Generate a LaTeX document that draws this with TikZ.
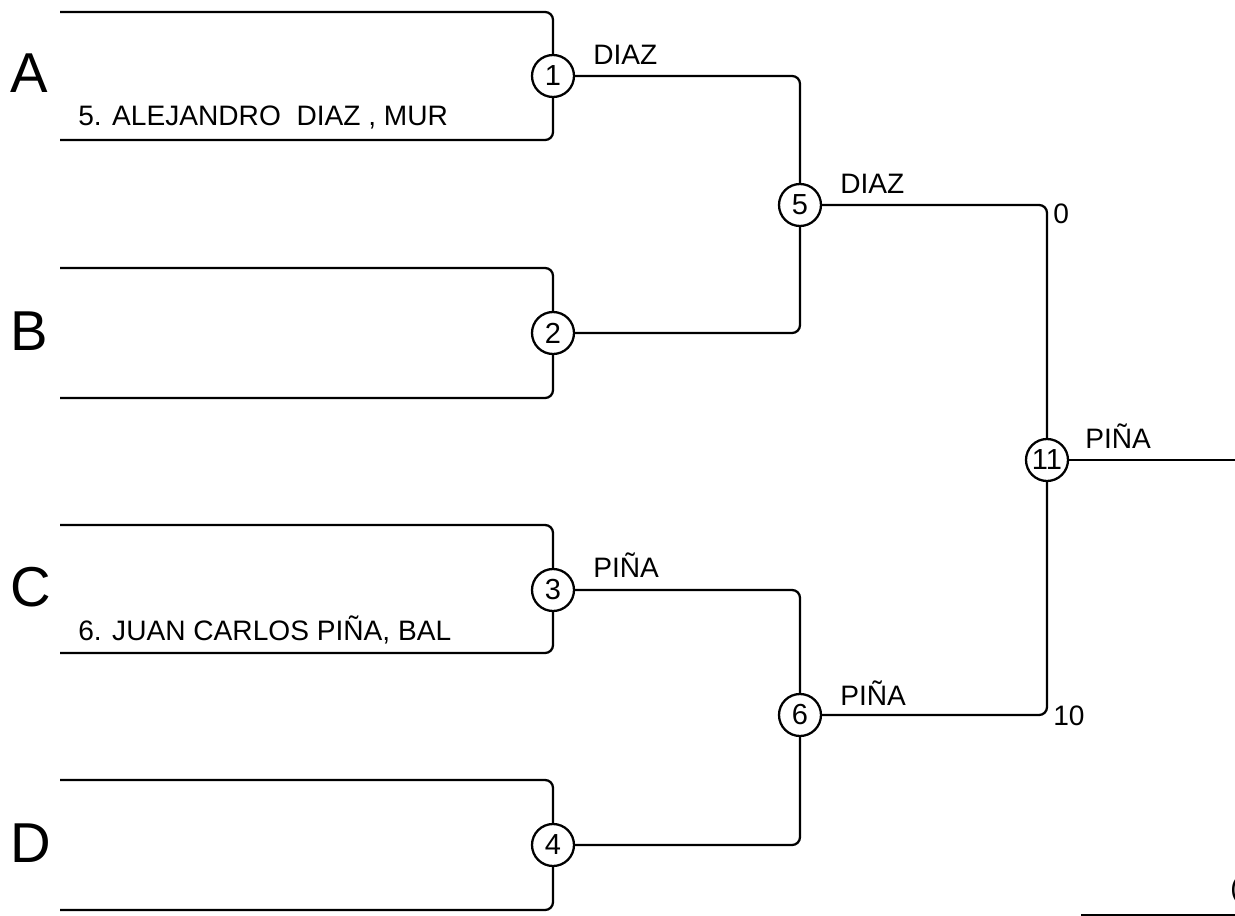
\documentclass[tikz,border=0pt]{standalone}
\usepackage{fontspec}
\setmainfont{Liberation Sans}

\tikzset{
  wire/.style={line width=1.3pt,rounded corners=4.5pt},
  game/.style={circle,draw,line width=1.3pt,minimum size=0.84cm,inner sep=0pt,font=\fontsize{16.5}{18}\selectfont},
  winner/.style={anchor=base west,inner sep=0pt,font=\fontsize{16}{18}\selectfont},
  seed/.style={anchor=base west,inner sep=0pt,font=\fontsize{32}{36}\selectfont}
}

\begin{document}
\begin{tikzpicture}[x=0.02cm,y=-0.02cm]
  \useasboundingbox (0,0) rectangle (1235,916);

  % games
  \node[game] (m1) at (553,76) {1};
  \node[game] (m2) at (553,333) {2};
  \node[game] (m3) at (553,590) {3};
  \node[game] (m4) at (553,845) {4};
  \node[game] (m5) at (800,205) {5};
  \node[game] (m6) at (800,715) {6};
  \node[game] (m11) at (1047,460) {11};

  % line ends on the left
  \coordinate (a1) at (60,12);  \coordinate (a2) at (60,140);
  \coordinate (b1) at (60,268); \coordinate (b2) at (60,398);
  \coordinate (c1) at (60,525); \coordinate (c2) at (60,653);
  \coordinate (d1) at (60,780); \coordinate (d2) at (60,910);
  \coordinate (out) at (1235,460);

  \draw[wire] (a1) -| (m1); \draw[wire] (a2) -| (m1);
  \draw[wire] (b1) -| (m2); \draw[wire] (b2) -| (m2);
  \draw[wire] (c1) -| (m3); \draw[wire] (c2) -| (m3);
  \draw[wire] (d1) -| (m4); \draw[wire] (d2) -| (m4);
  \draw[wire] (m1) -| (m5); \draw[wire] (m2) -| (m5);
  \draw[wire] (m3) -| (m6); \draw[wire] (m4) -| (m6);
  \draw[wire] (m5) -| (m11); \draw[wire] (m6) -| (m11);
  \draw[wire] (m11) -- (out);

  % pools
  \node[seed] (pa) at (10,92) {A};
  \node[seed] (pb) at (10,350) {B};
  \node[seed] (pc) at (10,606) {C};
  \node[seed] (pd) at (10,862) {D};

  \node[winner] (n1) at (78,125) {5. ALEJANDRO\ \ DIAZ , MUR};
  \node[winner] (n3) at (78,640) {6. JUAN CARLOS PIÑA, BAL};

  \node[winner] (w1) at (593,64) {DIAZ};
  \node[winner] (w3) at (593,577) {PIÑA};
  \node[winner] (w5) at (840,193) {DIAZ};
  \node[winner] (w6) at (840,705) {PIÑA};
  \node[winner] (w11) at (1085,448) {PIÑA};

  \node[winner] (s5) at (1053,223) {0};
  \node[winner] (s6) at (1053,725) {10};

  \node[winner] (cut) at (1230,897) {(};
  \coordinate (f1) at (1081,915); \coordinate (f2) at (1235,915);
  \draw[line width=1.3pt] (f1) -- (f2);
\end{tikzpicture}
\end{document}
